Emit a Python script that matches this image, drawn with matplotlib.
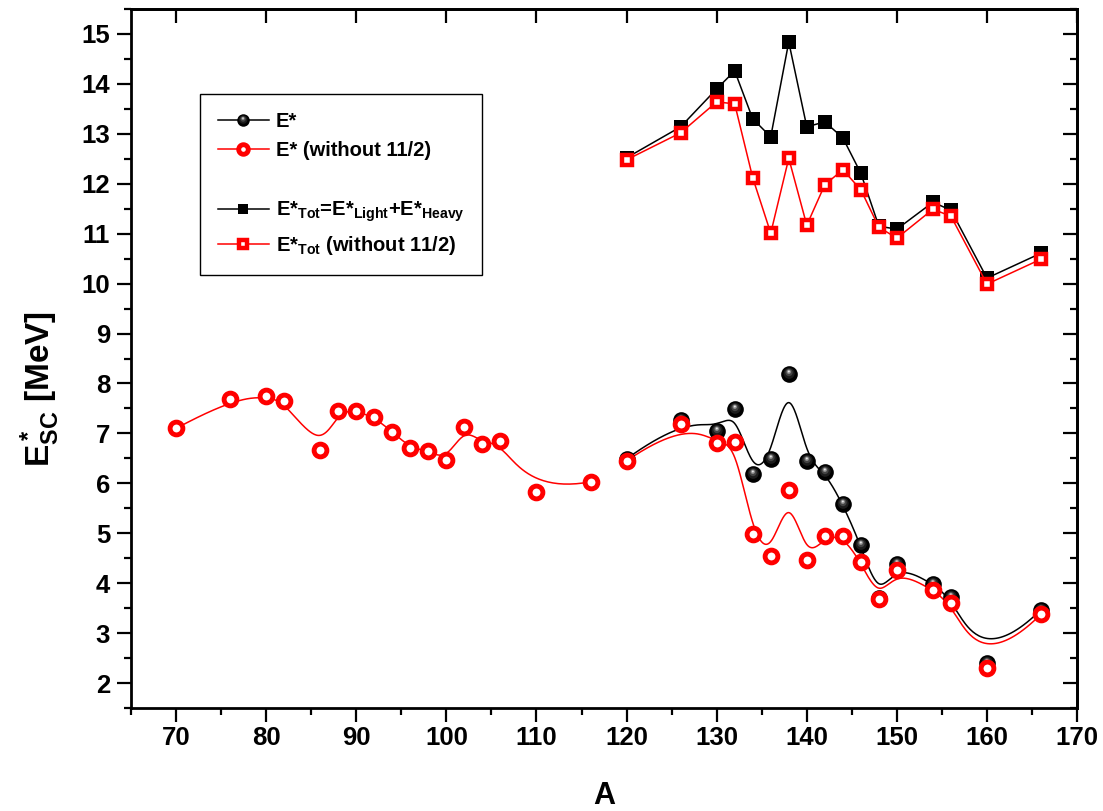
#!/usr/bin/env python3
"""
Excitation energy at scission vs. mass number A.

Lower group: E* of the fragment (with / without the 11/2 states), drawn with
an Origin-style B-spline through the points.  Upper group: total excitation
E*_Tot = E*_Light + E*_Heavy, drawn with straight segments.
"""

import numpy as np
import matplotlib
matplotlib.use("Agg")
import matplotlib.pyplot as plt
from matplotlib.lines import Line2D
from matplotlib.markers import MarkerStyle
from matplotlib.path import Path
from matplotlib.legend_handler import HandlerTuple
from matplotlib.ticker import MultipleLocator

# ── data ─────────────────────────────────────────────────────────────────────

A_LIGHT = [70, 76, 80, 82, 86, 88, 90, 92, 94, 96, 98, 100, 102, 104, 106, 110, 116]
E_LIGHT_NO112 = [7.10, 7.68, 7.75, 7.64, 6.67, 7.45, 7.45, 7.32, 7.03, 6.71, 6.65,
                 6.46, 7.12, 6.79, 6.85, 5.83, 6.03]

A_HEAVY = [120, 126, 130, 132, 134, 136, 138, 140, 142, 144, 146, 148, 150, 154,
           156, 160, 166]
E_STAR = [6.49, 7.27, 7.05, 7.49, 6.18, 6.49, 8.19, 6.45, 6.23, 5.58, 4.76, 3.70,
          4.38, 3.98, 3.72, 2.40, 3.47]
E_STAR_NO112 = [6.45, 7.19, 6.81, 6.83, 4.98, 4.54, 5.87, 4.46, 4.94, 4.94, 4.42,
                3.68, 4.26, 3.86, 3.60, 2.30, 3.38]
E_TOT = [12.52, 13.14, 13.90, 14.26, 13.30, 12.94, 14.84, 13.14, 13.24, 12.92,
         12.21, 11.15, 11.09, 11.63, 11.47, 10.11, 10.61]
E_TOT_NO112 = [12.48, 13.02, 13.64, 13.60, 12.12, 11.01, 12.51, 11.17, 11.98, 12.28,
               11.88, 11.13, 10.91, 11.49, 11.35, 9.99, 10.49]

LEGEND_LABELS = [
    "E*",
    "E* (without 11/2)",
    " ",
    "E*$_{Tot}$=E*$_{Light}$+E*$_{Heavy}$",
    "E*$_{Tot}$ (without 11/2)",
]

RED = "#ff0000"

plt.rcParams["font.family"] = ["Liberation Sans", "DejaVu Sans"]
plt.rcParams["font.weight"] = "bold"
plt.rcParams["mathtext.fontset"] = "custom"
plt.rcParams["mathtext.rm"] = "Liberation Sans:bold"
plt.rcParams["mathtext.bf"] = "Liberation Sans:bold"
plt.rcParams["mathtext.it"] = "Liberation Sans:bold"
plt.rcParams["mathtext.sf"] = "Liberation Sans:bold"
plt.rcParams["mathtext.default"] = "rm"


# ── helpers ──────────────────────────────────────────────────────────────────

def bspline(x, y, n=600, k=3):
    """Clamped uniform B-spline using the points as control points (Origin style)."""
    pts = np.column_stack([x, y]).astype(float)
    m = len(pts)
    k = min(k, m - 1)
    knots = np.concatenate([np.zeros(k), np.linspace(0, 1, m - k + 1), np.ones(k)])
    t = np.linspace(0, 1, n)
    N = np.zeros((n, len(knots) - 1))
    for i in range(len(knots) - 1):
        N[:, i] = (t >= knots[i]) & (t < knots[i + 1])
    last = np.nonzero(knots[:-1] < knots[1:])[0].max()
    N[t >= knots[-1], last] = 1.0
    for d in range(1, k + 1):
        Nn = np.zeros((n, len(knots) - 1 - d))
        for i in range(len(knots) - 1 - d):
            den1 = knots[i + d] - knots[i]
            den2 = knots[i + d + 1] - knots[i + 1]
            a = (t - knots[i]) / den1 * N[:, i] if den1 > 0 else 0.0
            b = (knots[i + d + 1] - t) / den2 * N[:, i + 1] if den2 > 0 else 0.0
            Nn[:, i] = a + b
        N = Nn
    curve = N @ pts
    return curve[:, 0], curve[:, 1]


def offset_circle(cx, cy, r):
    """Marker path of a circle off the marker centre, plus the size factor that
    undoes matplotlib's normalisation of custom marker paths."""
    p = Path.circle((cx, cy), r)
    factor = 2 * np.max(np.abs(p.vertices))
    return MarkerStyle(p), factor


# shaded "sphere" marker: layers from black rim to a light highlight
SPHERE_LAYERS = [
    ("#000000", 0.00, 0.00, 0.50),
    ("#1c1c1c", -0.02, 0.07, 0.33),
    ("#444444", -0.03, 0.12, 0.22),
    ("#8a8a8a", -0.04, 0.16, 0.13),
    ("#e6e6e6", -0.04, 0.18, 0.06),
]


def sphere_handles(ax, x, y, ms, zorder=3):
    handles = []
    for colour, cx, cy, r in SPHERE_LAYERS:
        if r == 0.5 and cx == 0 and cy == 0:
            marker, factor = "o", 1.0
        else:
            marker, factor = offset_circle(cx, cy, r)
        h, = ax.plot(x, y, linestyle="none", marker=marker, ms=ms * factor,
                     mfc=colour, mec="none", zorder=zorder)
        handles.append(h)
    return handles


# ── figure ───────────────────────────────────────────────────────────────────

fig = plt.figure(figsize=(11.03, 8.11), dpi=100)
ax = fig.add_axes([0.1188, 0.1270, 0.8577, 0.8619])

lw = 1.1

# upper group: straight segments
ax.plot(A_HEAVY, E_TOT, color="black", lw=lw, marker="s", ms=10, mfc="black",
        mec="black", mew=0, zorder=3)
ax.plot(A_HEAVY, E_TOT_NO112, color=RED, lw=lw, marker="s", ms=6.8, mfc="white",
        mec=RED, mew=3.2, zorder=4)

# lower group: B-spline curves
bx, by = bspline(A_HEAVY, E_STAR)
ax.plot(bx, by, color="black", lw=lw, zorder=2)
sphere = sphere_handles(ax, A_HEAVY, E_STAR, ms=12, zorder=3)

for xs, ys in [(A_LIGHT, E_LIGHT_NO112), (A_HEAVY, E_STAR_NO112)]:
    bx, by = bspline(xs, ys)
    ax.plot(bx, by, color=RED, lw=lw, zorder=2)
    ax.plot(xs, ys, linestyle="none", marker="o", ms=9.2, mfc="white", mec=RED,
            mew=3.5, zorder=4)

# ── axes ─────────────────────────────────────────────────────────────────────

ax.set_xlim(65, 170)
ax.set_ylim(1.5, 15.5)
ax.xaxis.set_major_locator(MultipleLocator(10))
ax.xaxis.set_minor_locator(MultipleLocator(5))
ax.yaxis.set_major_locator(MultipleLocator(1))
ax.yaxis.set_minor_locator(MultipleLocator(0.5))
ax.tick_params(which="both", direction="out", width=1.6, labelsize=18.5,
               top=False, right=False)
ax.tick_params(which="major", length=10)
ax.tick_params(which="minor", length=5)
ax.tick_params(axis="x", pad=3)
ax.tick_params(axis="y", pad=5)
for lab in ax.get_xticklabels() + ax.get_yticklabels():
    lab.set_fontweight("bold")
for sp in ax.spines.values():
    sp.set_linewidth(2.0)

top = ax.secondary_xaxis("top")
top.xaxis.set_major_locator(MultipleLocator(10))
top.tick_params(direction="in", length=10, width=1.6, labeltop=False)
top.spines["top"].set_linewidth(2.0)

right = ax.secondary_yaxis("right")
right.yaxis.set_major_locator(MultipleLocator(1))
right.yaxis.set_minor_locator(MultipleLocator(0.5))
right.tick_params(which="both", direction="in", width=1.6, labelright=False)
right.tick_params(which="major", length=10)
right.tick_params(which="minor", length=5)
right.spines["right"].set_linewidth(2.0)

ax.set_xlabel("A", fontsize=22, fontweight="bold")
ax.xaxis.set_label_coords(0.5, -0.105)
ax.set_ylabel(r"E$^*_{SC}$ [MeV]", fontsize=24, fontweight="bold")
ax.yaxis.set_label_coords(-0.073, 0.457)

# ── legend ───────────────────────────────────────────────────────────────────

black_line = Line2D([], [], color="black", lw=lw)
h_sphere = tuple([black_line] + sphere)
h_circle = Line2D([], [], color=RED, lw=lw, marker="o", ms=9.2, mfc="white",
                  mec=RED, mew=3.5)
h_blank = Line2D([], [], linestyle="none", marker="none")
h_square = Line2D([], [], color="black", lw=lw, marker="s", ms=10, mfc="black",
                  mec="black", mew=0)
h_rsquare = Line2D([], [], color=RED, lw=lw, marker="s", ms=6.8, mfc="white",
                   mec=RED, mew=3.2)

leg = ax.legend(
    [h_sphere, h_circle, h_blank, h_square, h_rsquare], LEGEND_LABELS,
    handler_map={tuple: HandlerTuple(ndivide=1, pad=0)},
    loc="upper left", bbox_to_anchor=(0.073, 0.878), borderaxespad=0,
    prop={"size": 14.5, "weight": "bold"}, numpoints=1, markerscale=0.75,
    handlelength=2.5, handletextpad=0.35, labelspacing=0.5,
    borderpad=0.9, fancybox=False, framealpha=1, edgecolor="black",
)
leg.get_frame().set_linewidth(1.0)

fig.savefig("out.png", dpi=100)
plt.close(fig)
